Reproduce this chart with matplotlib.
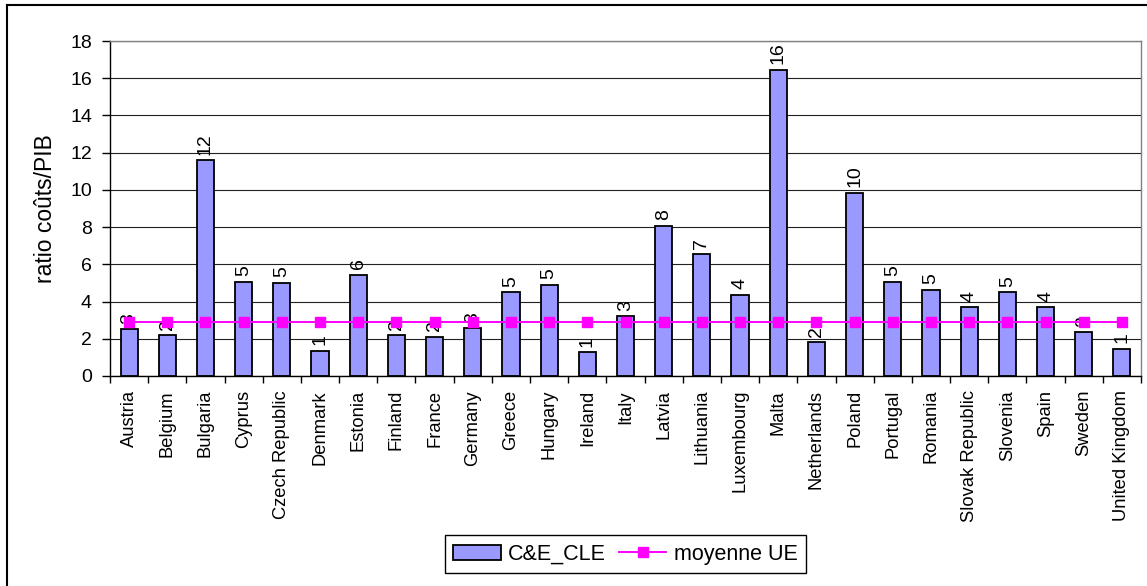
import matplotlib
matplotlib.use("Agg")
import matplotlib.pyplot as plt
from matplotlib.lines import Line2D
from matplotlib.patches import Patch
import numpy as np

plt.rcParams['font.family'] = ['Liberation Sans', 'DejaVu Sans']

countries = ["Austria", "Belgium", "Bulgaria", "Cyprus", "Czech Republic", "Denmark",
             "Estonia", "Finland", "France", "Germany", "Greece", "Hungary", "Ireland",
             "Italy", "Latvia", "Lithuania", "Luxembourg", "Malta", "Netherlands",
             "Poland", "Portugal", "Romania", "Slovak Republic", "Slovenia", "Spain",
             "Sweden", "United Kingdom"]
cle_values = [2.5, 2.2, 11.6, 5.05, 5.0, 1.35, 5.45, 2.2, 2.1, 2.57, 4.5, 4.9, 1.28,
              3.22, 8.06, 6.55, 4.35, 16.44, 1.82, 9.83, 5.05, 4.62, 3.7, 4.5, 3.7,
              2.37, 1.45]
cle_labels = ["3", "2", "12", "5", "5", "1", "6", "2", "2", "3", "5", "5", "1", "3",
              "8", "7", "4", "16", "2", "10", "5", "5", "4", "5", "4", "2", "1"]
eu_mean = [2.88] * len(countries)
yticks = [0, 2, 4, 6, 8, 10, 12, 14, 16, 18]

W, H = 1147, 586
fig = plt.figure(figsize=(W / 100, H / 100), dpi=100)
ax = fig.add_axes([110 / W, 1 - 376 / H, 1031 / W, 335 / H])

x = np.arange(len(countries))
bar_color = '#9999FF'
ax.bar(x, cle_values, width=0.45, color=bar_color, edgecolor='black',
       linewidth=1.3, zorder=2)

for xi, v, lab in zip(x, cle_values, cle_labels):
    ax.annotate(lab, (xi, v), xytext=(0, 4), textcoords='offset points',
                ha='center', va='bottom', rotation=90, fontsize=14, zorder=3)

ax.plot(x, eu_mean, color='#FF00FF', linewidth=1.4, marker='s', markersize=7,
        markerfacecolor='#FF00FF', markeredgecolor='#FF00FF', zorder=4)

ax.set_xlim(-0.5, len(countries) - 0.5)
ax.set_ylim(0, 18)
ax.set_yticks(yticks)
ax.set_yticklabels([str(t) for t in yticks])
ax.yaxis.grid(True, color='#222222', linewidth=0.8, zorder=0)
ax.set_axisbelow(True)

ax.set_xticks(x)
ax.set_xticklabels(countries, rotation=90, ha='center', va='top')
ax.set_xticks(np.arange(-0.5, len(countries), 1.0), minor=True)
ax.tick_params(axis='x', which='major', length=0, pad=10, labelsize=13.2)
ax.tick_params(axis='x', which='minor', length=5, width=1, direction='out', color='black')
ax.tick_params(axis='y', which='major', length=6, width=1, direction='out', pad=7,
               labelsize=14)

for side in ['left', 'bottom']:
    ax.spines[side].set_color('black')
    ax.spines[side].set_linewidth(1.0)
for side in ['top', 'right']:
    ax.spines[side].set_color('#808080')
    ax.spines[side].set_linewidth(1.0)

ax.set_ylabel("ratio coûts/PIB", fontsize=16.5, va='center')
ax.yaxis.set_label_coords(-0.063, 0.5)

handles = [Patch(facecolor=bar_color, edgecolor='black', linewidth=1.3),
           Line2D([0], [0], color='#FF00FF', linewidth=1.4, marker='s', markersize=7,
                  markerfacecolor='#FF00FF', markeredgecolor='#FF00FF')]
leg = fig.legend(handles, ["C&E_CLE", "moyenne UE"], ncol=2, loc='lower center',
                 bbox_to_anchor=(625.5 / W, 2 / H), bbox_transform=fig.transFigure,
                 fontsize=15.5, frameon=True, fancybox=False, edgecolor='black',
                 handlelength=2.2, handletextpad=0.35, columnspacing=0.6,
                 borderpad=0.4, framealpha=1)
leg.get_frame().set_linewidth(1.0)

# partial outer chart border (left and top)
fig.add_artist(Line2D([6.5 / W, 6.5 / W], [0, 1 - 4.5 / H], transform=fig.transFigure,
                      color='black', linewidth=1.5))
fig.add_artist(Line2D([6.5 / W, 1], [1 - 4.5 / H, 1 - 4.5 / H], transform=fig.transFigure,
                      color='black', linewidth=1.5))

fig.savefig("out.png", dpi=100)
